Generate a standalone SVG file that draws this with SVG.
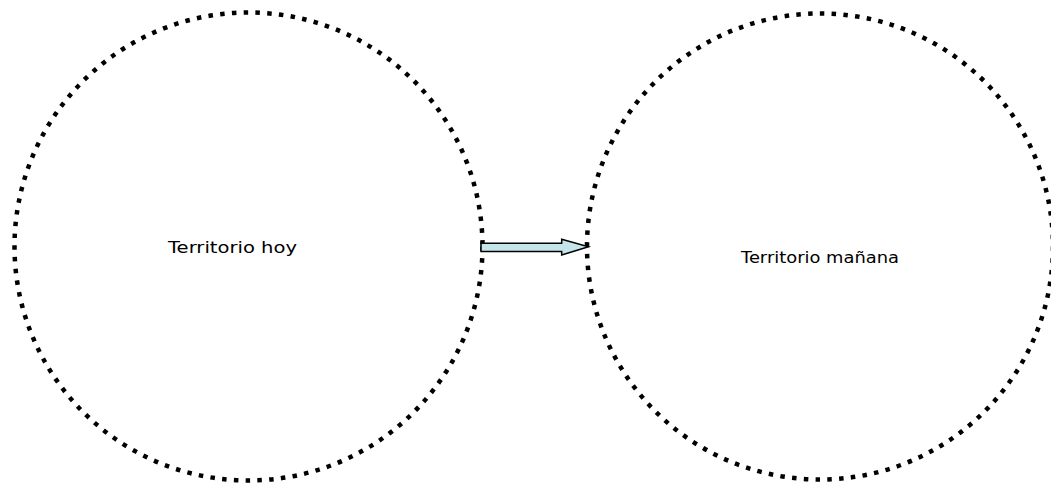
<svg xmlns="http://www.w3.org/2000/svg" width="1051" height="486" viewBox="0 0 1051 486">
<style>
.terr{fill:none;stroke:#000;stroke-width:4.5;stroke-dasharray:4.5 7.3}
.lbl{font-family:"DejaVu Sans","Liberation Sans",sans-serif;font-size:15px;fill:#000}
.arrow{fill:#c4e6ea;stroke:#000;stroke-width:1.5;stroke-linejoin:miter}
</style>
<rect width="1051" height="486" fill="#fff"/>
<g id="hoy">
<circle class="terr" cx="248.5" cy="246.5" r="234"/>
<text class="lbl" x="168" y="253" textLength="129" lengthAdjust="spacingAndGlyphs">Territorio hoy</text>
</g>
<g id="manana">
<circle class="terr" cx="820" cy="246.5" r="233"/>
<text class="lbl" x="741" y="263" textLength="158" lengthAdjust="spacingAndGlyphs">Territorio mañana</text>
</g>
<g id="connectors">
<path class="arrow" d="M481,243.3 L561.7,243.3 L561.7,239.3 L588.5,246.8 L561.7,255 L561.7,251.5 L481,251.5 Z"/>
</g>
</svg>
